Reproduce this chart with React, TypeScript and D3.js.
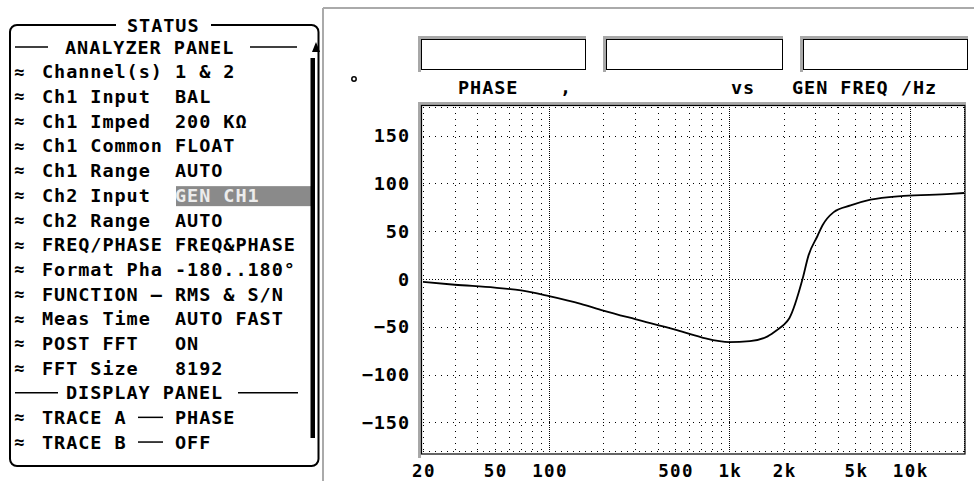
import React from "react";
import * as d3 from "d3";

const freqs = [20, 30, 50, 70, 100, 150, 200, 300, 500, 700, 1000, 1300, 1630, 1850, 2000, 2150, 2545, 2750, 3080, 3280, 3790, 4700, 6060, 9250, 16900, 20000];
const phase = [-3, -6, -9, -12, -18, -26, -33, -42, -53, -61, -66, -65, -60, -53, -48, -41, 0, 25, 45, 56, 70, 77, 83, 87, 89, 90];

const yTicks = [150, 100, 50, 0, -50, -100, -150];
const yGrid = [180, 150, 100, 50, 0, -50, -100, -150, -180];
const xTickVals = [20, 50, 100, 500, 1000, 2000, 5000, 10000];
const xTickLabels = ["20", "50", "100", "500", "1k", "2k", "5k", "10k"];
const xGrid = [20, 30, 40, 50, 60, 70, 80, 90, 100, 200, 300, 400, 500, 600, 700, 800, 900, 1000, 2000, 3000, 4000, 5000, 6000, 7000, 8000, 9000, 10000, 20000];
const decades = [100, 1000, 10000, 20000];

const statusLabels = ["Channel(s)", "Ch1 Input", "Ch1 Imped", "Ch1 Common", "Ch1 Range", "Ch2 Input", "Ch2 Range", "FREQ/PHASE", "Format Pha", "FUNCTION \u2013", "Meas Time", "POST FFT", "FFT Size"];
const statusValues = ["1 & 2", "BAL", "200 K\u03A9", "FLOAT", "AUTO", "GEN CH1", "AUTO", "FREQ&PHASE", "-180..180\u00B0", "RMS & S/N", "AUTO FAST", "ON", "8192"];
const traceLabels = ["TRACE A", "TRACE B"];
const traceValues = ["PHASE", "OFF"];

const FONT = "'DejaVu Sans Mono', monospace";
const tp = { fontFamily: FONT, fontWeight: 700, fontSize: 18.5, letterSpacing: 0.95 } as const;

const rowY = (i: number) => 47 + i * 24.69;

function T(props: any) {
  const { x, y, children, ...rest } = props;
  return (
    <text x={x} y={y + 6.7} {...tp} fill="#000" {...rest}>
      {children}
    </text>
  );
}

function Approx({ y }: { y: number }) {
  return (
    <text x={14} y={y + 6} fontFamily={FONT} fontWeight={700} fontSize={17} fill="#000">
      {"\u2248"}
    </text>
  );
}

function SunkenBox({ x0, y0, x1, y1 }: { x0: number; y0: number; x1: number; y1: number }) {
  return (
    <g>
      <polygon points={`${x0 - 3},${y0 - 3} ${x1},${y0 - 3} ${x1},${y0} ${x0},${y0} ${x0},${y1 + 2} ${x0 - 3},${y1 + 2}`} fill="#a8a8a8" />
      <rect x={x0 + 0.5} y={y0 + 0.5} width={x1 - x0 - 1} height={y1 - y0 - 1} fill="#fff" stroke="#000" strokeWidth={1} />
    </g>
  );
}

export default function App() {
  const x = d3.scaleLog().domain([20, 20000]).range([423, 964]);
  const y = d3.scaleLinear().domain([-180, 180]).range([451, 107]);
  const line = d3
    .line<number>()
    .x((_, i) => x(freqs[i]))
    .y((d) => y(d))
    .curve(d3.curveMonotoneX);

  return (
    <svg width={974} height={481} style={{ position: "absolute", left: 0, top: 0, background: "#fff" }}>
      {/* Status panel */}
      <rect x={10} y={25} width={308.5} height={441} rx={7} fill="none" stroke="#000" strokeWidth={2} />
      <rect x={116} y={15} width={95} height={20} fill="#fff" />
      <T x={127} y={25}>STATUS</T>

      {/* Analyzer panel header */}
      <line x1={15} x2={48} y1={rowY(0)} y2={rowY(0)} stroke="#000" strokeWidth={1.5} />
      <T x={65} y={rowY(0)}>ANALYZER PANEL</T>
      <line x1={250} x2={297} y1={rowY(0)} y2={rowY(0)} stroke="#000" strokeWidth={1.5} />
      <polygon points={`${312},${rowY(0) + 5} ${320},${rowY(0) + 5} ${316},${rowY(0) - 5}`} fill="#000" />

      {statusLabels.map((lab, i) => {
        const yy = rowY(i + 1);
        const hl = statusValues[i] === "GEN CH1";
        return (
          <g key={lab}>
            <Approx y={yy} />
            <T x={42} y={yy}>{lab}</T>
            {hl && <rect x={176} y={yy - 9} width={136} height={20} fill="#8a8a8a" />}
            <T x={175} y={yy} fill={hl ? "#ececec" : "#000"}>
              {statusValues[i]}
            </T>
          </g>
        );
      })}

      {/* Display panel header */}
      <line x1={15} x2={58} y1={rowY(14)} y2={rowY(14)} stroke="#000" strokeWidth={1.5} />
      <T x={66} y={rowY(14)}>DISPLAY PANEL</T>
      <line x1={238} x2={298} y1={rowY(14)} y2={rowY(14)} stroke="#000" strokeWidth={1.5} />

      {traceLabels.map((lab, i) => {
        const yy = rowY(15 + i);
        return (
          <g key={lab}>
            <Approx y={yy} />
            <T x={42} y={yy}>{lab}</T>
            <line x1={138} x2={163} y1={yy} y2={yy} stroke="#000" strokeWidth={1.5} />
            <T x={175} y={yy}>{traceValues[i]}</T>
          </g>
        );
      })}

      {/* scrollbar thumb */}
      <rect x={310.5} y={58} width={4.5} height={380} fill="#000" />

      {/* Right window border */}
      <line x1={323} x2={323} y1={8} y2={481} stroke="#aaa" strokeWidth={2} />
      <line x1={323} x2={974} y1={8} y2={8} stroke="#aaa" strokeWidth={2} />

      {/* header boxes */}
      <SunkenBox x0={421} y0={39} x1={586} y1={70} />
      <SunkenBox x0={606} y0={39} x1={783} y1={70} />
      <SunkenBox x0={803} y0={39} x1={968} y1={70} />

      {/* header text */}
      <circle cx={354} cy={79} r={2.2} fill="none" stroke="#000" strokeWidth={1.5} />
      <T x={458} y={87}>PHASE</T>
      <T x={560} y={87}>,</T>
      <T x={731} y={87}>vs</T>
      <T x={792} y={87}>GEN FREQ /Hz</T>

      {/* plot frame */}
      <polygon points={`418,102 966,102 966,105 421,105 421,458 418,458`} fill="#a8a8a8" />
      <rect x={421.5} y={105.5} width={543.5} height={348.5} fill="#fff" stroke="#000" strokeWidth={1.2} />

      {/* grid */}
      {yGrid.map((v) => (
        <line
          key={"h" + v}
          x1={423}
          x2={964}
          y1={Math.round(y(v)) + 0.5}
          y2={Math.round(y(v)) + 0.5}
          stroke="#000"
          strokeWidth={1}
          strokeDasharray={v === 0 ? "1,2" : "1,5"}
        />
      ))}
      {xGrid.map((f) => (
        <line
          key={"v" + f}
          x1={Math.round(x(f)) + 0.5}
          x2={Math.round(x(f)) + 0.5}
          y1={107}
          y2={452}
          stroke="#000"
          strokeWidth={1}
          strokeDasharray={decades.includes(f) ? "1,1" : "1,5"}
        />
      ))}

      {/* curve */}
      <path d={line(phase) || ""} fill="none" stroke="#000" strokeWidth={1.8} />

      {/* y tick labels */}
      {yTicks.map((v) => (
        <T key={"yt" + v} x={410} y={y(v)} textAnchor="end">
          {v < 0 ? "\u2212" + Math.abs(v) : String(v)}
        </T>
      ))}

      {/* x tick labels */}
      {xTickVals.map((f, i) => (
        <text
          key={"xt" + f}
          x={x(f) + 1}
          y={477}
          textAnchor="middle"
          fontFamily={FONT}
          fontWeight={700}
          fontSize={17.5}
          letterSpacing={1.4}
          fill="#000"
        >
          {xTickLabels[i]}
        </text>
      ))}
    </svg>
  );
}
